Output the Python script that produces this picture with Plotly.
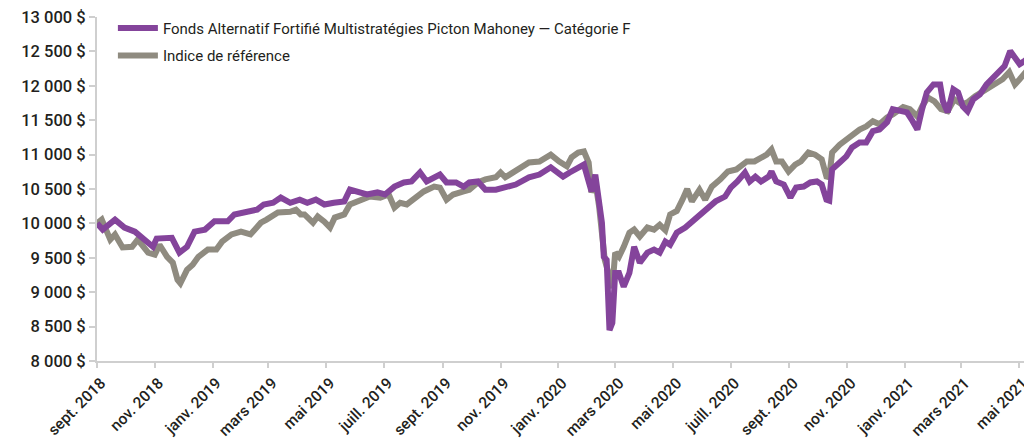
import plotly.graph_objects as go

fund_dates = [
    "2018-09-01","2018-09-07","2018-09-20","2018-09-30","2018-10-11","2018-10-21","2018-10-30",
    "2018-11-03","2018-11-12","2018-11-19","2018-11-27","2018-12-05","2018-12-13","2018-12-24",
    "2019-01-03","2019-01-17","2019-01-24","2019-02-03","2019-02-17","2019-02-24",
    "2019-03-06","2019-03-14","2019-03-24","2019-04-03","2019-04-11","2019-04-20","2019-04-29",
    "2019-05-09","2019-05-20","2019-05-26","2019-06-05","2019-06-13","2019-06-24",
    "2019-07-02","2019-07-12","2019-07-22","2019-07-30","2019-08-08","2019-08-15","2019-08-23","2019-08-29",
    "2019-09-05","2019-09-15","2019-09-23","2019-09-29","2019-10-08","2019-10-16","2019-10-27",
    "2019-11-04","2019-11-17","2019-12-01","2019-12-12","2019-12-24",
    "2020-01-06","2020-01-13","2020-01-22","2020-01-28","2020-02-02","2020-02-05","2020-02-09",
    "2020-02-14","2020-02-16","2020-02-18","2020-02-21","2020-02-24","2020-02-27",
    "2020-03-01","2020-03-05","2020-03-10","2020-03-16","2020-03-21","2020-03-27","2020-04-04",
    "2020-04-11","2020-04-17","2020-04-23","2020-04-28",
    "2020-05-05","2020-05-14","2020-05-21","2020-05-29","2020-06-06","2020-06-15","2020-06-25",
    "2020-07-01","2020-07-08","2020-07-16","2020-07-21","2020-07-27","2020-08-02","2020-08-10",
    "2020-08-13","2020-08-18","2020-08-26",
    "2020-09-02","2020-09-08","2020-09-16","2020-09-23","2020-09-30","2020-10-05","2020-10-10",
    "2020-10-13","2020-10-16","2020-10-24","2020-10-31",
    "2020-11-06","2020-11-14","2020-11-21","2020-11-28","2020-12-05","2020-12-13","2020-12-19","2020-12-27",
    "2021-01-03","2021-01-09","2021-01-14","2021-01-19","2021-01-24","2021-01-31","2021-02-07",
    "2021-02-10","2021-02-15","2021-02-21","2021-02-26",
    "2021-03-03","2021-03-08","2021-03-14","2021-03-21","2021-03-28","2021-04-04","2021-04-11",
    "2021-04-16","2021-04-22","2021-04-27","2021-05-02","2021-05-07","2021-05-13",
]
fund_values = [
    10000, 9910, 10055, 9940, 9880, 9765, 9660,
    9780, 9790, 9790, 9575, 9660, 9880, 9910,
    10030, 10030, 10130, 10160, 10200, 10275,
    10300, 10375, 10300, 10345, 10300, 10345, 10275,
    10300, 10320, 10490, 10450, 10420, 10450,
    10420, 10535, 10595, 10610, 10740, 10610, 10670, 10710,
    10595, 10595, 10535, 10595, 10610, 10490, 10490,
    10520, 10565, 10670, 10710, 10815,
    10680, 10740, 10815, 10855, 10610, 10465, 10710,
    10300, 10010, 9515, 9470, 8450, 8555,
    9280, 9280, 9080, 9280, 9660, 9430, 9575,
    9620, 9575, 9735, 9690,
    9865, 9940, 10025, 10100, 10200, 10320, 10390,
    10520, 10610, 10740, 10610, 10680, 10610, 10680,
    10755, 10610, 10565,
    10375, 10520, 10535, 10595, 10610, 10565, 10345,
    10330, 10785, 10885, 10975,
    11105, 11175, 11175, 11340, 11365, 11470, 11660, 11630,
    11615, 11485, 11365, 11660, 11905, 12020, 12020,
    11775, 11615, 11950, 11905,
    11700, 11630, 11805, 11875, 12020, 12125, 12210,
    12285, 12505, 12390, 12315, 12360, 12430,
]

index_dates = [
    "2018-09-01","2018-09-06","2018-09-15","2018-09-20","2018-09-28","2018-10-08","2018-10-14","2018-10-25",
    "2018-11-01","2018-11-06","2018-11-14","2018-11-20","2018-11-25","2018-11-28","2018-12-05","2018-12-11",
    "2018-12-17","2018-12-27",
    "2019-01-05","2019-01-11","2019-01-21","2019-01-31","2019-02-10","2019-02-21","2019-02-27",
    "2019-03-11","2019-03-24","2019-03-30","2019-04-04","2019-04-08","2019-04-17","2019-04-22","2019-04-29",
    "2019-05-05","2019-05-10","2019-05-20","2019-05-26","2019-06-06","2019-06-16","2019-06-27",
    "2019-07-06","2019-07-12","2019-07-18","2019-07-25","2019-08-03","2019-08-12","2019-08-23","2019-08-29",
    "2019-09-05","2019-09-12","2019-09-23","2019-09-29","2019-10-08","2019-10-16","2019-10-27",
    "2019-11-01","2019-11-06","2019-11-17","2019-12-01","2019-12-12","2019-12-24",
    "2020-01-02","2020-01-10","2020-01-15","2020-01-22","2020-01-28","2020-02-02","2020-02-05","2020-02-09",
    "2020-02-13","2020-02-16","2020-02-19","2020-02-24","2020-02-27",
    "2020-03-01","2020-03-05","2020-03-10","2020-03-16","2020-03-21","2020-03-27","2020-04-04",
    "2020-04-11","2020-04-17","2020-04-23","2020-04-28",
    "2020-05-05","2020-05-11","2020-05-16","2020-05-21","2020-05-29","2020-06-04","2020-06-11","2020-06-20",
    "2020-06-28",
    "2020-07-07","2020-07-13","2020-07-18","2020-07-26","2020-08-02","2020-08-08","2020-08-13","2020-08-18",
    "2020-08-24","2020-08-31",
    "2020-09-07","2020-09-13","2020-09-21","2020-09-28","2020-10-05","2020-10-10","2020-10-13","2020-10-16",
    "2020-10-24","2020-10-31",
    "2020-11-06","2020-11-14","2020-11-21","2020-11-28","2020-12-05","2020-12-13","2020-12-19","2020-12-30",
    "2021-01-06","2021-01-14","2021-01-19","2021-01-25","2021-02-01","2021-02-08","2021-02-15","2021-02-22",
    "2021-03-02","2021-03-08","2021-03-16","2021-03-24","2021-03-31","2021-04-08","2021-04-14","2021-04-21",
    "2021-04-27","2021-05-02","2021-05-09","2021-05-14",
]
index_values = [
    10000, 10055, 9765, 9840, 9650, 9660, 9765, 9575,
    9545, 9690, 9515, 9430, 9180, 9130, 9325, 9400,
    9515, 9620,
    9620, 9735, 9840, 9880, 9840, 10010, 10055,
    10160, 10170, 10200, 10130, 10130, 10010, 10100, 10025,
    9940, 10085, 10130, 10275, 10345, 10390, 10375,
    10420, 10230, 10300, 10275, 10375, 10465, 10535, 10520,
    10345, 10420, 10465, 10490, 10595, 10640, 10670,
    10740, 10670, 10755, 10885, 10900, 11000,
    10900, 10830, 10960, 11030, 11045, 10885, 10450, 10610,
    10250, 9910, 9470, 9225, 9060,
    9575, 9515, 9660, 9865, 9910, 9810, 9940,
    9910, 9980, 9900, 10130,
    10180, 10345, 10500, 10320, 10490, 10345, 10535, 10640,
    10755,
    10785, 10855, 10900, 10900, 10960, 11000, 11075, 10900,
    10900, 10755,
    10855, 10900, 11030, 11000, 10930, 10680, 10670, 11030,
    11145, 11220,
    11295, 11365, 11410, 11485, 11440, 11540, 11585, 11690,
    11660, 11555, 11700, 11830, 11775, 11660, 11630, 11805,
    11730, 11760, 11850, 11920, 11995, 12065, 12095, 12200,
    12020, 12095, 12210, 12240,
]

fund_name = "Fonds Alternatif Fortifié Multistratégies Picton Mahoney — Catégorie F"
index_name = "Indice de référence"

y_ticks = [8000, 8500, 9000, 9500, 10000, 10500, 11000, 11500, 12000, 12500, 13000]
y_labels = ["8 000 $", "8 500 $", "9 000 $", "9 500 $", "10 000 $", "10 500 $", "11 000 $",
            "11 500 $", "12 000 $", "12 500 $", "13 000 $"]

x_ticks = ["2018-09-01", "2018-11-01", "2019-01-01", "2019-03-01", "2019-05-01", "2019-07-01",
           "2019-09-01", "2019-11-01", "2020-01-01", "2020-03-01", "2020-05-01", "2020-07-01",
           "2020-09-01", "2020-11-01", "2021-01-01", "2021-03-01", "2021-05-01"]
x_labels = ["sept. 2018", "nov. 2018", "janv. 2019", "mars 2019", "mai 2019", "juill. 2019",
            "sept. 2019", "nov. 2019", "janv. 2020", "mars 2020", "mai 2020", "juill. 2020",
            "sept. 2020", "nov. 2020", "janv. 2021", "mars 2021", "mai 2021"]

PURPLE = "#84449b"
GREY = "#8f8b80"

fig = go.Figure()
fig.add_trace(go.Scatter(x=index_dates, y=index_values, mode="lines", name=index_name,
                         legendgroup="b", legendrank=2, line=dict(color=GREY, width=6)))
fig.add_trace(go.Scatter(x=fund_dates, y=fund_values, mode="lines", name=fund_name,
                         legendgroup="a", legendrank=1, line=dict(color=PURPLE, width=6)))

axis_col = "#cfcfcf"
fig.update_layout(
    width=1024, height=430,
    margin=dict(l=89, r=0, t=9, b=77, autoexpand=False),
    paper_bgcolor="white", plot_bgcolor="white",
    font=dict(family="Roboto, sans-serif", color="#231f20"),
    showlegend=True,
    legend=dict(x=0.017, y=1.015, xanchor="left", yanchor="top", traceorder="grouped",
                font=dict(size=15, color="#231f20"), bgcolor="rgba(0,0,0,0)",
                tracegroupgap=5, itemwidth=40),
    xaxis=dict(type="date", range=["2018-09-01", "2021-05-15"], tickmode="array",
               tickvals=x_ticks, ticktext=x_labels, tickangle=-45, automargin=False,
               ticklabeloverflow="allow", ticklabelshift=4,
               tickfont=dict(size=15.5, weight=500, color="#231f20"),
               showgrid=False, zeroline=False, showline=True, linecolor=axis_col, linewidth=2,
               ticks="outside", ticklen=5, tickcolor=axis_col, tickwidth=2),
    yaxis=dict(range=[8000, 13000], tickmode="array", tickvals=y_ticks, ticktext=y_labels,
               automargin=False, ticklabeloverflow="allow",
               tickfont=dict(size=16.5, weight=500, color="#231f20"),
               showgrid=False, zeroline=False, showline=True, linecolor=axis_col, linewidth=2,
               ticks="outside", ticklen=6, tickcolor=axis_col, tickwidth=2),
)

fig.write_html("out.html")
